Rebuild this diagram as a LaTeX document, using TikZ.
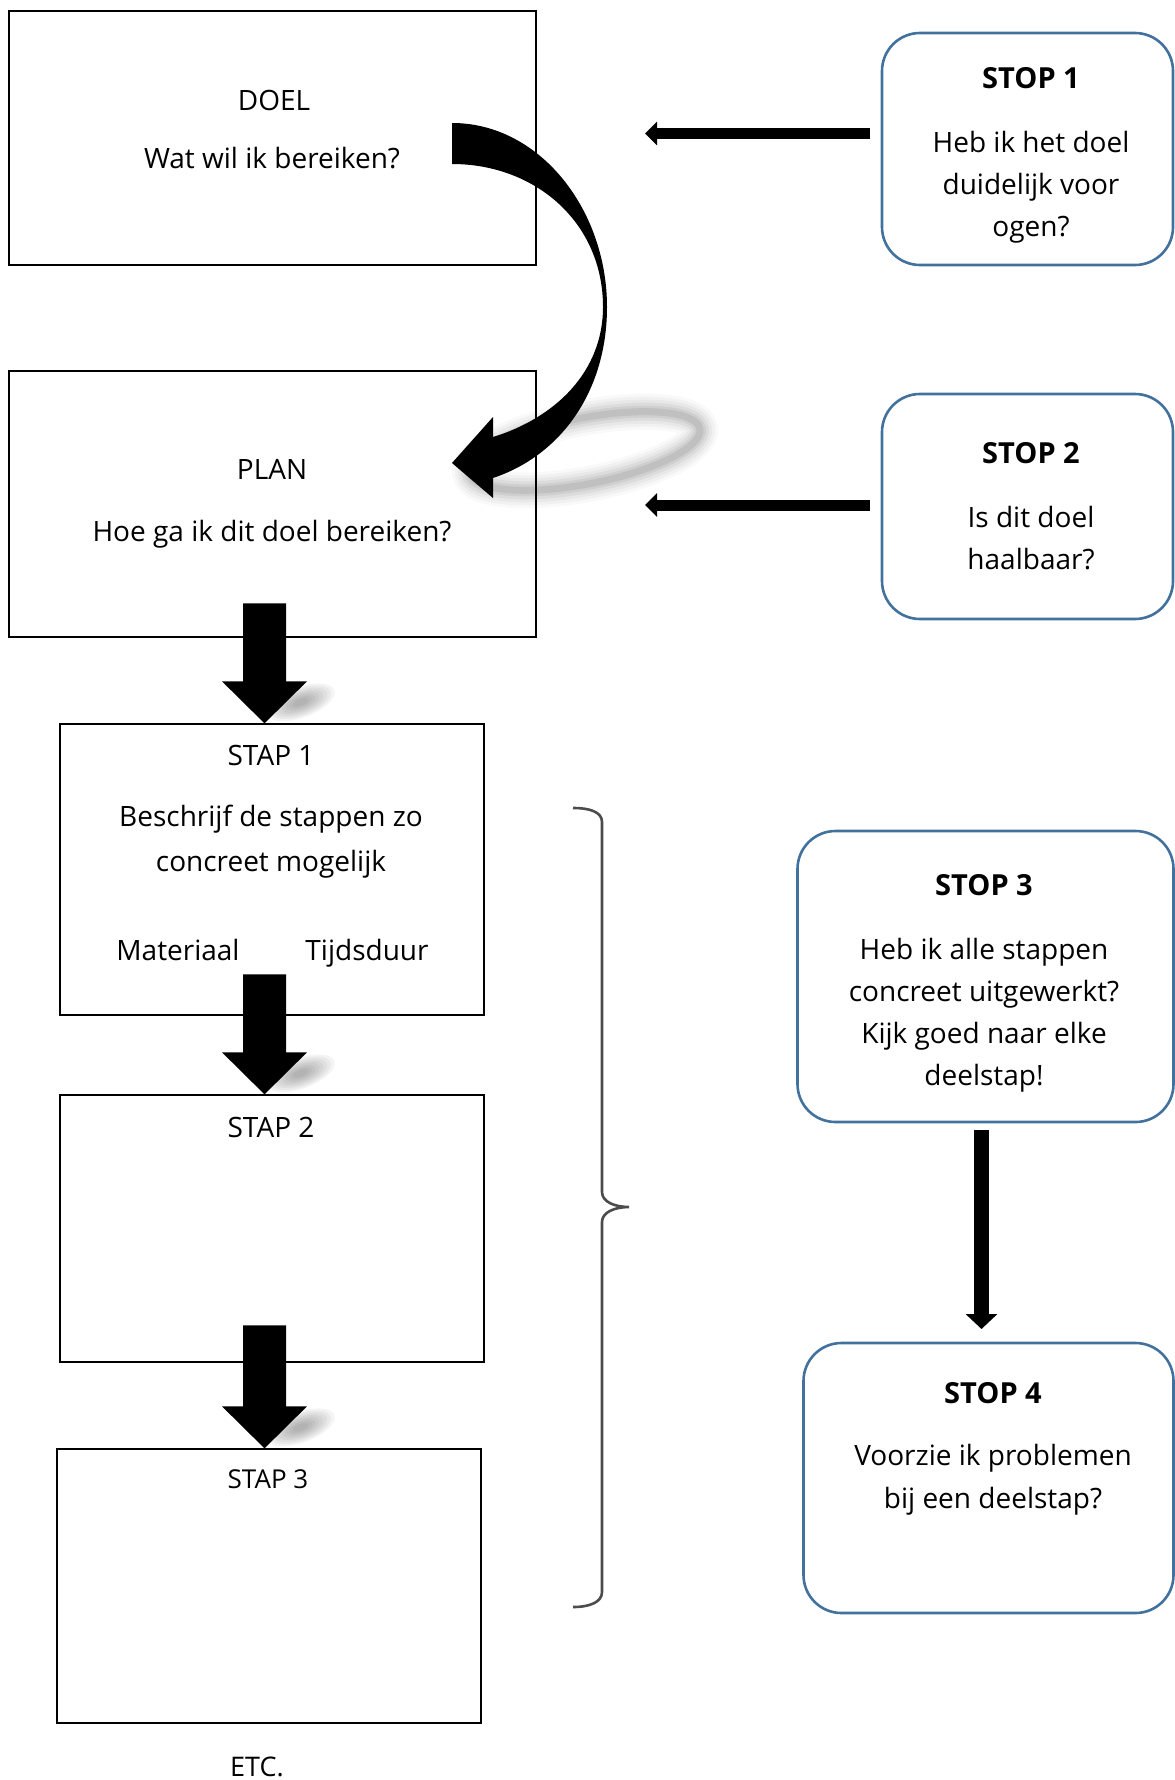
\documentclass[tikz,border=0pt]{standalone}
\usepackage{fontspec}
\setmainfont{Open Sans}
\usetikzlibrary{arrows.meta,calc}
\definecolor{stopblue}{RGB}{65,113,156}
\newcommand\blkarrow[2]{%
  \begin{scope}[shift={($(#1)+(36,-21)$)}, rotate=20]
    \foreach \k in {1,...,8}{%
      \fill[black, opacity=0.045] (0,0) ellipse [x radius={40-4*\k}, y radius={17-1.7*\k}];}
  \end{scope}
  \fill[black] (#1) -- ++(-42.5,-42) -- ++(21,0) -- ++(0,-#2) -- ++(43,0) -- ++(0,#2) -- ++(21,0) -- cycle;
}
\begin{document}
\begin{tikzpicture}[x=1pt,y=-1pt,
  box/.style={draw=black, line width=1.3pt, inner sep=0pt, rectangle},
  stopbox/.style={draw=stopblue, line width=2.6pt, rounded corners=38pt, inner sep=0pt, rectangle},
  txt/.style={font=\fontsize{28}{42}\selectfont, align=center, inner sep=0pt, text height=26pt, text depth=5pt},
  mtxt/.style={font=\fontsize{28}{42}\selectfont, align=center, inner sep=0pt},
  ttl/.style={font=\bfseries\fontsize{29}{42}\selectfont, inner sep=0pt, text height=26pt, text depth=5pt},
  thinarrow/.style={line width=11pt, -{Triangle[length=12pt 0 0, width=23pt 0 0]}},
  midarrow/.style={line width=15pt, -{Triangle[length=15pt 0 0, width=31pt 0 0]}},
  bracestyle/.style={draw=black!70, line width=2.6pt},
]
\useasboundingbox (0,0) rectangle (1175,1780);

% shadow ring of the curved arrow
\begin{scope}[shift={(585,451)}, rotate=11]
  \foreach \w/\o in {36/0.025,30/0.03,24/0.04,18/0.05,12/0.06,7/0.07}{
    \draw[black, opacity=\o, line width=\w pt] (0,0) ellipse [x radius=117, y radius=33];}
\end{scope}

% left boxes
\node[box, minimum width=527pt, minimum height=254pt] (doel) at (272.5,138) {};
\node[box, minimum width=527pt, minimum height=266pt] (plan) at (272.5,504) {};
\node[box, minimum width=424pt, minimum height=291pt] (stap1) at (272,869.5) {};
\node[box, minimum width=424pt, minimum height=267pt] (stap2) at (272,1228.5) {};
\node[box, minimum width=424pt, minimum height=274pt] (stap3) at (269,1586) {};

% texts of left boxes
\node[txt] (doelA) at (274,100) {DOEL};
\node[txt] (doelB) at (272,158) {Wat wil ik bereiken?};
\node[txt] (planA) at (272,469) {PLAN};
\node[txt] (planB) at (272,531) {Hoe ga ik dit doel bereiken?};
\node[mtxt, font=\fontsize{28}{45}\selectfont] (s1B) at (271,842) {Beschrijf de stappen zo\\concreet mogelijk};
\node[txt] (s1A) at (271,755) {STAP 1};
\node[txt] (s1C) at (178,950) {Materiaal};
\node[txt] (s1D) at (367,950) {Tijdsduur};
\node[txt] (s2A) at (271,1127) {STAP 2};
\node[txt, font=\fontsize{26}{36}\selectfont] (s3A) at (268,1478) {STAP 3};
\node[txt, font=\fontsize{27}{36}\selectfont] (etc) at (257,1766) {ETC.};

% stop boxes
\node[stopbox, minimum width=291pt, minimum height=232pt] (stop1) at (1027.5,149) {};
\node[stopbox, minimum width=291pt, minimum height=225pt] (stop2) at (1027.5,506.5) {};
\node[stopbox, minimum width=376pt, minimum height=291pt] (stop3) at (985.5,976.5) {};
\node[stopbox, minimum width=370pt, minimum height=270pt] (stop4) at (988.5,1478) {};

\node[ttl] (stop1T) at (1031,78) {STOP 1};
\node[mtxt] (stop1B) at (1031,187) {Heb ik het doel\\duidelijk voor\\ogen?};
\node[ttl] (stop2T) at (1031,453) {STOP 2};
\node[mtxt] (stop2B) at (1031,538) {Is dit doel\\haalbaar?};
\node[ttl] (stop3T) at (984,885) {STOP 3};
\node[mtxt] (stop3B) at (984,1015) {Heb ik alle stappen\\concreet uitgewerkt?\\Kijk goed naar elke\\deelstap!};
\node[ttl] (stop4T) at (993,1393) {STOP 4};
\node[mtxt, font=\fontsize{28}{43}\selectfont] (stop4B) at (993,1480) {Voorzie ik problemen\\bij een deelstap?};

% thin arrows from stops
\coordinate (a1tip) at (645,133.5);
\coordinate (a2tip) at (645,505);
\draw[thinarrow] ($(stop1.west |- a1tip)+(-11,0)$) -- (a1tip);
\draw[thinarrow] ($(stop2.west |- a2tip)+(-11,0)$) -- (a2tip);

% stop3 -> stop4
\coordinate (a3tip) at (981.5,1329);
\draw[midarrow] ($(stop3.south -| a3tip)+(0,7)$) -- (a3tip);

% block arrows down
\coordinate (t1) at ($(stap1.north)+(-7.5,0)$);
\coordinate (t2) at ($(stap2.north)+(-7.5,0)$);
\coordinate (t3) at ($(stap3.north)+(-4.5,0)$);
\blkarrow{t1}{78}
\blkarrow{t2}{78}
\blkarrow{t3}{81}

% curved arrow from DOEL to PLAN
\fill[black] (452,123) .. controls (540,123) and (607,210) .. (607,307)
  .. controls (607,390) and (562,455) .. (493,478)
  -- (493,498) -- (452,463) -- (493,417) -- (493,437)
  .. controls (555,418) and (603,372) .. (603,307)
  .. controls (603,222) and (535,164) .. (452,164) -- cycle;

% brace
\draw[bracestyle] (573,808) .. controls (590,808) and (602,812) .. (602,822)
  -- (602,1192) .. controls (602,1202) and (615,1207) .. (629,1207)
  .. controls (615,1207) and (602,1212) .. (602,1222)
  -- (602,1592) .. controls (602,1602) and (590,1607) .. (573,1607);
\end{tikzpicture}
\end{document}
